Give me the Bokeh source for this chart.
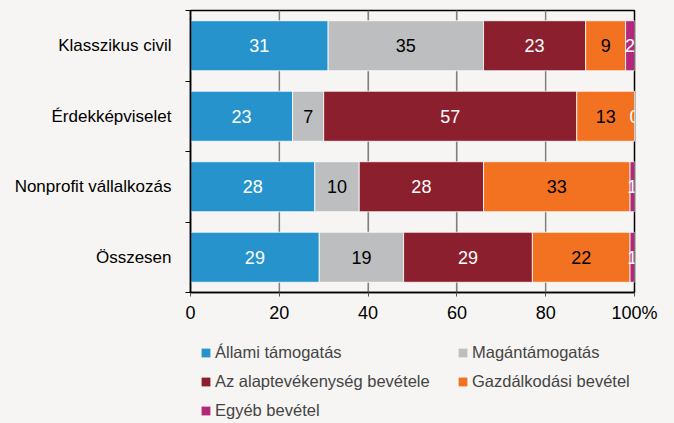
from bokeh.plotting import figure
from bokeh.models import ColumnDataSource, Range1d, FixedTicker, Legend, LegendItem
from bokeh.layouts import column
from bokeh.core.properties import value
from bokeh.embed import file_html
from bokeh.resources import INLINE

categories = ["Klasszikus civil", "Érdekképviselet", "Nonprofit vállalkozás", "Összesen"]
series = ["Állami támogatás", "Magántámogatás", "Az alaptevékenység bevétele",
          "Gazdálkodási bevétel", "Egyéb bevétel"]
allami = [31, 23, 28, 29]
magan = [35, 7, 10, 19]
alap = [23, 57, 28, 29]
gazd = [9, 13, 33, 22]
egyeb = [2, 0, 1, 1]
x_ticks = [0, 20, 40, 60, 80, 100]
x_tick_labels = ["0", "20", "40", "60", "80", "100%"]

colors = ["#2793cd", "#bcbec0", "#8c1f2d", "#f27222", "#b3287a"]
label_colors = ["white", "black", "white", "black", "white"]
FONT = "Liberation Sans"
BG = "#f6f5f3"
GRID = "#808080"

values = [allami, magan, alap, gazd, egyeb]
keys = ["s%d" % i for i in range(len(series))]
n = len(categories)
ypos = [i + 0.5 for i in range(n)]

data = {"y": ypos}
for k, v in zip(keys, values):
    data[k] = v
source = ColumnDataSource(data)

p = figure(width=674, height=325, output_backend="svg", toolbar_location=None,
           x_range=Range1d(0, 100), y_range=Range1d(n, 0),
           min_border_left=190, min_border_right=40, min_border_top=10,
           min_border_bottom=33)
# transparent fills: the page background colour shows through
p.background_fill_color = None
p.border_fill_color = None
p.outline_line_color = "black"
p.outline_line_width = 1.5

# vertical grid lines
p.xgrid.ticker = FixedTicker(ticks=x_ticks)
p.xgrid.grid_line_color = GRID
p.xgrid.grid_line_width = 1.2
p.ygrid.grid_line_color = None

inner = x_ticks[1:-1]
grid_src = ColumnDataSource(dict(x=inner, top=[n] * len(inner), bottom=[0] * len(inner)))
p.vbar(x="x", top="top", bottom="bottom", width=0.28, source=grid_src,
       fill_color=GRID, line_color=None)

renderers = p.hbar_stack(keys, y="y", height=0.71, color=colors,
                         line_color="white", line_width=0.8, source=source)

# value labels
cum = [0] * n
for v, tc in zip(values, label_colors):
    mids = [c + vv / 2 for c, vv in zip(cum, v)]
    cum = [c + vv for c, vv in zip(cum, v)]
    src = ColumnDataSource(dict(x=mids, y=ypos, t=[str(vv) for vv in v]))
    p.text(x="x", y="y", text="t", source=src, text_align="center",
           text_baseline="middle", text_color=tc, text_font=value(FONT),
           text_font_size="18px")

# x axis
p.xaxis.ticker = FixedTicker(ticks=x_ticks)
p.xaxis.major_label_overrides = {t: l for t, l in zip(x_ticks, x_tick_labels)}
p.xaxis.major_label_text_font = FONT
p.xaxis.major_label_text_font_size = "18px"
p.xaxis.major_label_text_color = "black"
p.xaxis.axis_line_color = "black"
p.xaxis.axis_line_width = 1.5
p.xaxis.major_tick_line_color = "#555555"
p.xaxis.major_tick_out = 4
p.xaxis.major_tick_in = 0
p.xaxis.minor_tick_line_color = None
p.xaxis.major_label_standoff = 6

# y axis
p.yaxis.ticker = FixedTicker(ticks=ypos, minor_ticks=list(range(n + 1)))
p.yaxis.major_label_overrides = {y: c for y, c in zip(ypos, categories)}
p.yaxis.major_label_text_font = FONT
p.yaxis.major_label_text_font_size = "17px"
p.yaxis.major_label_text_color = "black"
p.yaxis.axis_line_color = "black"
p.yaxis.axis_line_width = 1.5
p.yaxis.major_tick_out = 0
p.yaxis.major_tick_in = 0
p.yaxis.minor_tick_out = 5
p.yaxis.minor_tick_in = 0
p.yaxis.minor_tick_line_color = "black"
p.yaxis.major_label_standoff = 14

# legend panel (separate figure below the chart)
lg = figure(width=674, height=98, output_backend="svg", toolbar_location=None,
            x_range=Range1d(0, 100), y_range=Range1d(n, 0), min_border=0)
lg.axis.visible = False
lg.grid.grid_line_color = None
lg.outline_line_color = None
lg.background_fill_color = None
lg.border_fill_color = None
lg_renderers = lg.hbar_stack(keys, y="y", height=0.71, color=colors, line_color=None,
                             source=source)
for r in lg_renderers:
    r.visible = False

legend = Legend(items=[LegendItem(label=s, renderers=[r]) for s, r in zip(series, lg_renderers)],
                location=(10, 3), orientation="horizontal", ncols=2,
                padding=0, margin=0, spacing=10, glyph_width=11, glyph_height=11,
                label_standoff=4, label_width=232, label_height=19,
                label_text_font=FONT, label_text_font_size="16.5px",
                background_fill_alpha=0, border_line_color=None,
                inactive_fill_alpha=0)
lg.add_layout(legend, "center")

layout = column(p, lg, spacing=0, styles={"background-color": BG})
open("out.html", "w").write(file_html(layout, INLINE))
